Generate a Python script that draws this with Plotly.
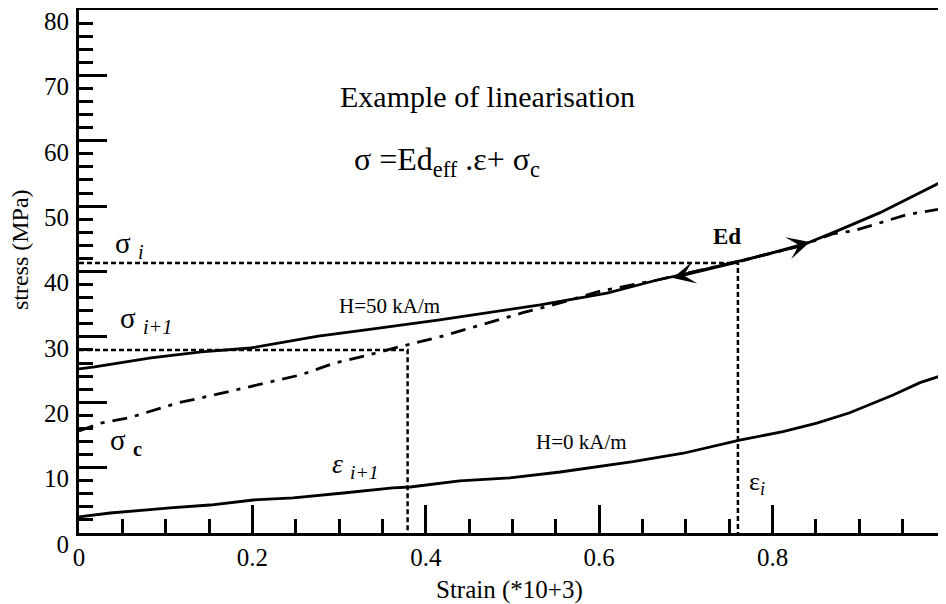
import plotly.graph_objects as go

# ---------------- data ----------------
h50_x = [0.0, 0.018, 0.083, 0.141, 0.198, 0.276, 0.333, 0.416, 0.532, 0.609, 0.667,
         0.705, 0.759, 0.832, 0.878, 0.924, 0.993, 1.0]
h50_y = [25.1, 25.4, 26.8, 27.7, 28.3, 30.1, 31.1, 32.6, 34.9, 36.7, 38.7,
         39.8, 41.5, 43.9, 46.4, 49.0, 53.6, 54.0]

lin_x = [0.0, 0.025, 0.057, 0.114, 0.152, 0.203, 0.256, 0.295, 0.330, 0.370, 0.416,
         0.463, 0.512, 0.558, 0.601, 0.667, 0.759, 0.832, 0.870, 0.893, 0.924, 0.955, 1.0]
lin_y = [15.6, 16.8, 17.6, 19.9, 21.0, 22.6, 24.2, 26.0, 27.1, 28.5, 30.0,
         31.8, 33.7, 35.3, 37.0, 38.7, 41.5, 43.9, 45.8, 46.2, 47.4, 48.7, 49.7]

h0_x = [0.0, 0.036, 0.105, 0.151, 0.201, 0.247, 0.305, 0.362, 0.382, 0.439, 0.497,
        0.555, 0.639, 0.697, 0.762, 0.812, 0.851, 0.889, 0.939, 0.970, 1.0]
h0_y = [2.45, 3.06, 3.83, 4.28, 5.05, 5.36, 6.12, 6.89, 7.04, 7.96, 8.42,
        9.33, 10.9, 12.2, 14.2, 15.5, 16.8, 18.4, 21.1, 23.0, 24.3]

eps_i, sigma_i = 0.76, 41.3
eps_ip1, sigma_ip1 = 0.379, 28.0

ed_tail = (0.762, 41.5)
ed_head_right = (0.843, 44.5)
ed_head_left = (0.685, 39.0)

x_ticks = [0, 0.2, 0.4, 0.6, 0.8, 1]
x_tick_text = ["0", "0.2", "0.4", "0.6", "0.8", "1"]
y_ticks = [0, 10, 20, 30, 40, 50, 60, 70, 80]
y_tick_text = ["0", "10", "20", "30", "40", "50", "60", "70", "80"]

SERIF = "Liberation Serif, Times New Roman, serif"

fig = go.Figure()

fig.add_trace(go.Scatter(x=[0, eps_i, eps_i], y=[sigma_i, sigma_i, 0], mode="lines",
                         line=dict(color="black", width=2.5, dash="5px,3px"), hoverinfo="skip"))
fig.add_trace(go.Scatter(x=[0, eps_ip1, eps_ip1], y=[sigma_ip1, sigma_ip1, 0], mode="lines",
                         line=dict(color="black", width=2.5, dash="5px,3px"), hoverinfo="skip"))
fig.add_trace(go.Scatter(x=lin_x, y=lin_y, mode="lines",
                         line=dict(color="black", width=2.8, dash="15px,8px,4px,8px")))
fig.add_trace(go.Scatter(x=h50_x, y=h50_y, mode="lines",
                         line=dict(color="black", width=2.8)))
fig.add_trace(go.Scatter(x=h0_x, y=h0_y, mode="lines",
                         line=dict(color="black", width=2.8)))

ann = []
for head in (ed_head_right, ed_head_left):
    ann.append(dict(x=head[0], y=head[1], ax=ed_tail[0], ay=ed_tail[1],
                    xref="x", yref="y", axref="x", ayref="y", text="",
                    showarrow=True, arrowhead=3, arrowsize=1.5, arrowwidth=2.5,
                    arrowcolor="black", standoff=0, startstandoff=0))

def txt(x, y, s, size, xanchor="center", yanchor="middle"):
    ann.append(dict(x=x, y=y, xref="x", yref="y", text=s, showarrow=False,
                    xanchor=xanchor, yanchor=yanchor,
                    font=dict(family=SERIF, size=size, color="black")))

txt(0.4706, 66.7, "Example of linearisation", 30)
txt(0.4245, 56.9, "σ =Ed<sub>eff</sub> .ε+ σ<sub>c</sub>", 32)
txt(0.039, 44.0, "σ <sub><i>i</i></sub>", 29, xanchor="left")
txt(0.045, 32.6, "σ <sub><i>i+1</i></sub>", 29, xanchor="left")
txt(0.033, 13.9, "σ <sub><b>c</b></sub>", 29, xanchor="left")
txt(0.2895, 10.4, "<i>ε</i> <sub><i>i+1</i></sub>", 28, xanchor="left")
txt(0.770, 7.6, "ε<sub><i>i</i></sub>", 26, xanchor="left")
txt(0.3587, 34.7, "H=50 kA/m", 21)
txt(0.580, 13.9, "H=0 kA/m", 21)
txt(0.747, 45.3, "<b>Ed</b>", 23)

# axis titles
ann.append(dict(x=0.497, y=0, xref="paper", yref="paper", yshift=-57, text="Strain (*10+3)",
                showarrow=False, xanchor="center", yanchor="middle",
                font=dict(family=SERIF, size=25, color="black")))
ann.append(dict(x=0, y=0.541, xref="paper", yref="paper", xshift=-59, text="stress (MPa)",
                showarrow=False, xanchor="center", yanchor="middle", textangle=-90,
                font=dict(family=SERIF, size=24, color="black")))

# page body has an 8px margin: figure is sized so it ends exactly at the window edge
fig.update_layout(
    width=938, height=596,
    margin=dict(l=71, r=0, t=2, b=71),
    plot_bgcolor="white", paper_bgcolor="white",
    showlegend=False,
    annotations=ann,
    font=dict(family=SERIF, color="black"),
)
fig.update_xaxes(
    range=[0, 1], tickvals=x_ticks, ticktext=x_tick_text, automargin=False,
    showgrid=False, zeroline=False,
    showline=True, linecolor="black", linewidth=3, mirror=True,
    ticks="inside", ticklen=28, tickwidth=2.5, tickcolor="black",
    minor=dict(dtick=0.05, ticks="inside", ticklen=14, tickwidth=2.5, tickcolor="black"),
    tickfont=dict(family=SERIF, size=25, color="black"),
    ticklabelstandoff=0, ticklabeloverflow="allow",
)
fig.update_yaxes(
    range=[0, 80], tickvals=y_ticks, ticktext=y_tick_text, automargin=False,
    showgrid=False, zeroline=False,
    showline=True, linecolor="black", linewidth=3,
    ticks="inside", ticklen=28, tickwidth=2.5, tickcolor="black",
    minor=dict(dtick=2, ticks="inside", ticklen=14, tickwidth=2.5, tickcolor="black"),
    tickfont=dict(family=SERIF, size=25, color="black"),
    ticklabelshift=11, ticklabelstandoff=2, ticklabeloverflow="allow",
)

fig.write_html("out.html")
